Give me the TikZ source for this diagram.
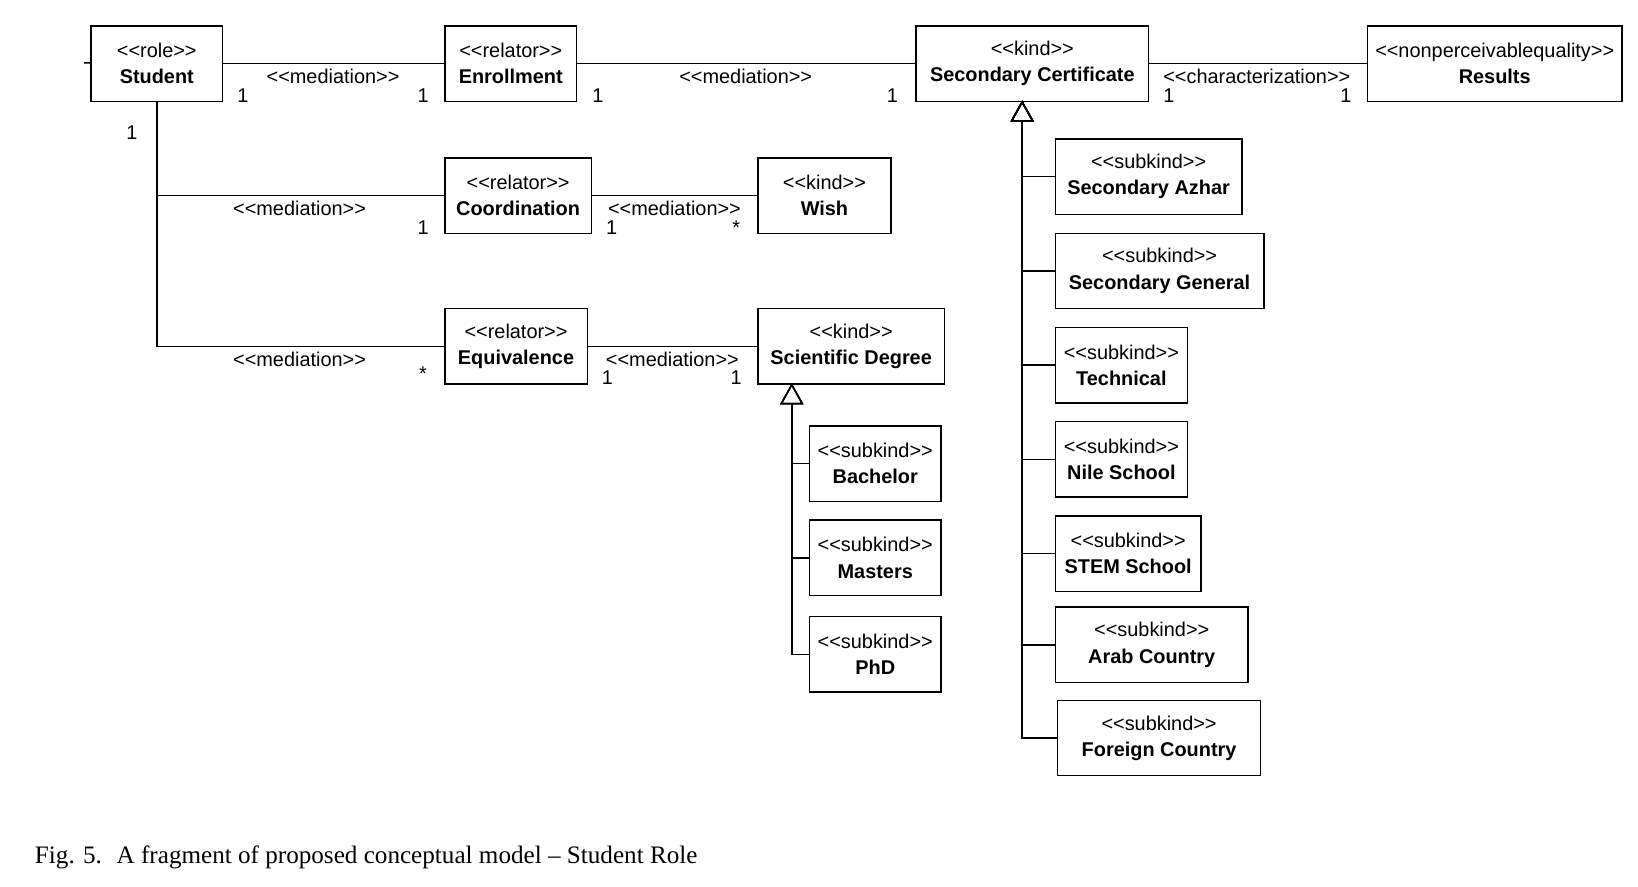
\documentclass[tikz,border=0pt]{standalone}
\usepackage{fontspec}
\newfontfamily\umlfont{Liberation Sans}
\newfontfamily\capfont{Liberation Serif}
\usetikzlibrary{arrows.meta}

\tikzstyle{classbox} = [rectangle, minimum height = 36pt, inner sep = 1pt,
	anchor = north west, align = center, line width = 0.7pt, draw = black]
\tikzstyle{assoc} = [line width = 0.7pt]
\tikzstyle{gen} = [line width = 0.7pt, -{Triangle[open, length = 10pt, width = 11pt]}]
\tikzstyle{mult} = [inner sep = 0pt]

\newcommand{\stereo}[1]{<<#1>>}

\begin{document}
\begin{tikzpicture}[x = 0.5pt, y = -0.5pt,
	font = \umlfont\fontsize{9.5}{12.5}\selectfont]

\useasboundingbox (0,0) rectangle (1564,846);

% top row
\node (student) [classbox, minimum width = 63pt] at (86,24)
	{\stereo{role}\\ \textbf{Student}};
\node (enroll) [classbox, minimum width = 63pt] at (424,24)
	{\stereo{relator}\\ \textbf{Enrollment}};
\node (seccert) [classbox, minimum width = 111pt] at (874,24)
	{\stereo{kind}\\ \textbf{Secondary Certificate}};
\node (results) [classbox, minimum width = 121.5pt] at (1305,24)
	{\stereo{nonperceivablequality}\\ \textbf{Results}};

% relators under the student
\node (coord) [classbox, minimum width = 70pt] at (424,150)
	{\stereo{relator}\\ \textbf{Coordination}};
\node (wish) [classbox, minimum width = 63.5pt] at (723,150)
	{\stereo{kind}\\ \textbf{Wish}};
\node (equiv) [classbox, minimum width = 68pt] at (424,294)
	{\stereo{relator}\\ \textbf{Equivalence}};
\node (scideg) [classbox, minimum width = 89pt] at (723,294)
	{\stereo{kind}\\ \textbf{Scientific Degree}};

% subkinds of the scientific degree
\node (bach) [classbox, minimum width = 63pt] at (772,406)
	{\stereo{subkind}\\ \textbf{Bachelor}};
\node (mast) [classbox, minimum width = 63pt] at (772,496)
	{\stereo{subkind}\\ \textbf{Masters}};
\node (phd) [classbox, minimum width = 63pt] at (772,588)
	{\stereo{subkind}\\ \textbf{PhD}};

% subkinds of the secondary certificate
\node (azhar) [classbox, minimum width = 89pt] at (1007,132)
	{\stereo{subkind}\\ \textbf{Secondary Azhar}};
\node (general) [classbox, minimum width = 99.5pt] at (1007,222)
	{\stereo{subkind}\\ \textbf{Secondary General}};
\node (tech) [classbox, minimum width = 63pt] at (1007,312)
	{\stereo{subkind}\\ \textbf{Technical}};
\node (nile) [classbox, minimum width = 63pt] at (1007,402)
	{\stereo{subkind}\\ \textbf{Nile School}};
\node (stem) [classbox, minimum width = 69.5pt] at (1007,492)
	{\stereo{subkind}\\ \textbf{STEM School}};
\node (arab) [classbox, minimum width = 92pt] at (1007,579)
	{\stereo{subkind}\\ \textbf{Arab Country}};
\node (foreign) [classbox, minimum width = 97pt] at (1009,668)
	{\stereo{subkind}\\ \textbf{Foreign Country}};

\coordinate (stub) at (80,60);
\coordinate (sdtop) at (756,366);
\coordinate (sctop) at (976,96);

% associations
\draw [assoc] (stub) -- (student);
\draw [assoc] (student) -- (enroll);
\draw [assoc] (enroll) -- (seccert);
\draw [assoc] (seccert) -- (results);
\draw [assoc] (student.south) |- (coord);
\draw [assoc] (student.south) |- (equiv);
\draw [assoc] (coord) -- (wish);
\draw [assoc] (equiv) -- (scideg);

% generalizations
\foreach \c in {bach, mast, phd}
	\draw [gen] (\c.west) -| (sdtop);
\foreach \c in {azhar, general, tech, nile, stem, arab, foreign}
	\draw [gen] (\c.west) -| (sctop);

% association labels
\node (se) [mult] at (318,73) {\stereo{mediation}};
\node (se1) [mult] at (232,91) {1};
\node (se2) [mult] at (404,91) {1};
\node (es) [mult] at (712,73) {\stereo{mediation}};
\node (es1) [mult] at (571,91) {1};
\node (es2) [mult] at (852,91) {1};
\node (sr) [mult] at (1200,73) {\stereo{characterization}};
\node (sr1) [mult] at (1116,91) {1};
\node (sr2) [mult] at (1285,91) {1};
\node (st1) [mult] at (126,127) {1};
\node (sc) [mult] at (286,199) {\stereo{mediation}};
\node (sc1) [mult] at (404,217) {1};
\node (cw) [mult] at (644,199) {\stereo{mediation}};
\node (cw1) [mult] at (584,217) {1};
\node (cw2) [mult] at (703,217) {*};
\node (sq) [mult] at (286,343) {\stereo{mediation}};
\node (sq1) [mult] at (404,357) {*};
\node (qd) [mult] at (642,343) {\stereo{mediation}};
\node (qd1) [mult] at (580,361) {1};
\node (qd2) [mult] at (703,361) {1};

\node (caption) [anchor = west, inner sep = 0pt,
	font = \capfont\fontsize{12}{14}\selectfont] at (33,819)
	{Fig. 5.\hspace{7pt}A fragment of proposed conceptual model – Student Role};
\end{tikzpicture}
\end{document}
